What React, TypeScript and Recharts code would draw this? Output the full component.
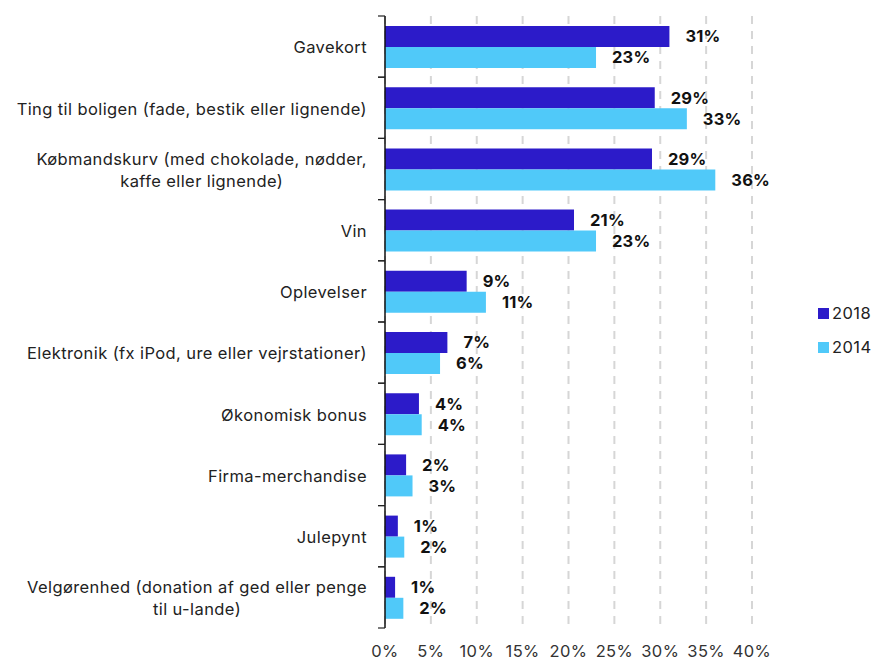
import React from 'react';
import { BarChart, Bar, XAxis, YAxis, CartesianGrid, LabelList } from 'recharts';

const categories = [
  'Gavekort',
  'Ting til boligen (fade, bestik eller lignende)',
  'Købmandskurv (med chokolade, nødder,\nkaffe eller lignende)',
  'Vin',
  'Oplevelser',
  'Elektronik (fx iPod, ure eller vejrstationer)',
  'Økonomisk bonus',
  'Firma-merchandise',
  'Julepynt',
  'Velgørenhed (donation af ged eller penge\ntil u-lande)',
];
const values2018 = [31, 29.4, 29.1, 20.6, 8.9, 6.8, 3.7, 2.3, 1.4, 1.1];
const values2014 = [23, 32.9, 36, 23, 11, 6, 4, 3, 2.1, 2];
const xTicks = [0, 5, 10, 15, 20, 25, 30, 35, 40];
const seriesNames = ['2018', '2014'];

const COLOR_2018 = '#2c1bc9';
const COLOR_2014 = '#50c9f9';
const FONT = 'Inter, "Liberation Sans", Arial, sans-serif';
const FS = 16.5;
const LS = 0.4;

const data = categories.map((c, i) => ({ name: c, y2018: values2018[i], y2014: values2014[i] }));

const W = 875;
const H = 661;
const MARGIN = { top: 16, right: 123, bottom: 0, left: 0 };
const XAXIS_H = 33;
const BAND = (H - MARGIN.top - MARGIN.bottom - XAXIS_H) / categories.length;

let ctx: any = null;
function measure(text: string): number {
  if (!ctx) {
    const c = document.createElement('canvas');
    ctx = c.getContext('2d');
  }
  if (!ctx) return text.length * 7.8;
  ctx.font = `${FS}px Inter, "Liberation Sans", Arial, sans-serif`;
  try { ctx.letterSpacing = `${LS}px`; } catch (e) {}
  return ctx.measureText(text).width;
}

const CategoryTick = (props: any) => {
  const { x, y, payload } = props;
  const lines: string[] = String(payload.value).split('\n');
  const lh = 21.5;
  const start = y - ((lines.length - 1) * lh) / 2 + 1;
  const axisX = x + 18;
  const textStyle = { letterSpacing: `${LS}px` };
  let content;
  if (lines.length === 1) {
    content = (
      <text x={x} y={y + 1} dy="0.35em" textAnchor="end" fontSize={FS} fill="#222" fontFamily={FONT} style={textStyle}>
        {lines[0]}
      </text>
    );
  } else {
    const maxW = Math.max(...lines.map(measure));
    const cx = x - maxW / 2;
    content = (
      <text textAnchor="middle" fontSize={FS} fill="#222" fontFamily={FONT} style={textStyle}>
        {lines.map((l, i) => (
          <tspan key={i} x={cx} y={start + i * lh} dy="0.35em">
            {l}
          </tspan>
        ))}
      </text>
    );
  }
  return (
    <g>
      <line x1={axisX - 7} x2={axisX} y1={y - BAND / 2} y2={y - BAND / 2} stroke="#222" strokeWidth={1.2} />
      <line x1={axisX - 7} x2={axisX} y1={y + BAND / 2} y2={y + BAND / 2} stroke="#222" strokeWidth={1.2} />
      {content}
    </g>
  );
};

const LegendBox = () => (
  <div
    style={{
      position: 'absolute',
      left: 818,
      top: 296,
      fontFamily: FONT,
      fontSize: FS,
      letterSpacing: `${LS}px`,
      color: '#222',
    }}
  >
    {seriesNames.map((n, i) => (
      <div key={n} style={{ display: 'flex', alignItems: 'center', height: 34 }}>
        <span
          style={{
            display: 'inline-block',
            width: 11,
            height: 11,
            background: i === 0 ? COLOR_2018 : COLOR_2014,
            marginRight: 3,
          }}
        />
        <span>{n}</span>
      </div>
    ))}
  </div>
);

const fmt = (v: any) => `${Math.round(Number(v))}%`;
const labelStyle = { fontSize: 16.5, fontWeight: 700, fill: '#111', fontFamily: FONT, letterSpacing: '0.2px' };

export default function App() {
  return (
    <div style={{ position: 'absolute', left: 0, top: 0, width: W, height: H, background: '#fff' }}>
      <BarChart
        width={W}
        height={H}
        data={data}
        layout="vertical"
        margin={MARGIN}
        barSize={21}
        barGap={0}
      >
        <CartesianGrid horizontal={false} stroke="#d6d6d6" strokeWidth={2} strokeDasharray="8 7" />
        <XAxis
          type="number"
          domain={[0, 40]}
          ticks={xTicks}
          tickFormatter={(v) => `${v}%`}
          axisLine={false}
          tickLine={false}
          tickSize={6}
          tickMargin={11}
          height={XAXIS_H}
          tick={{ fontSize: FS, fill: '#333', fontFamily: FONT, style: { letterSpacing: `${LS}px` } }}
          interval={0}
        />
        <YAxis
          type="category"
          dataKey="name"
          width={385}
          axisLine={{ stroke: '#111', strokeWidth: 1.5 }}
          tickLine={false}
          tickSize={6}
          tickMargin={12}
          tick={<CategoryTick />}
          interval={0}
        />
        <Bar dataKey="y2018" name="2018" fill={COLOR_2018} isAnimationActive={false}>
          <LabelList dataKey="y2018" position="right" offset={16} formatter={fmt} style={labelStyle} />
        </Bar>
        <Bar dataKey="y2014" name="2014" fill={COLOR_2014} isAnimationActive={false}>
          <LabelList dataKey="y2014" position="right" offset={16} formatter={fmt} style={labelStyle} />
        </Bar>
      </BarChart>
      <LegendBox />
    </div>
  );
}
